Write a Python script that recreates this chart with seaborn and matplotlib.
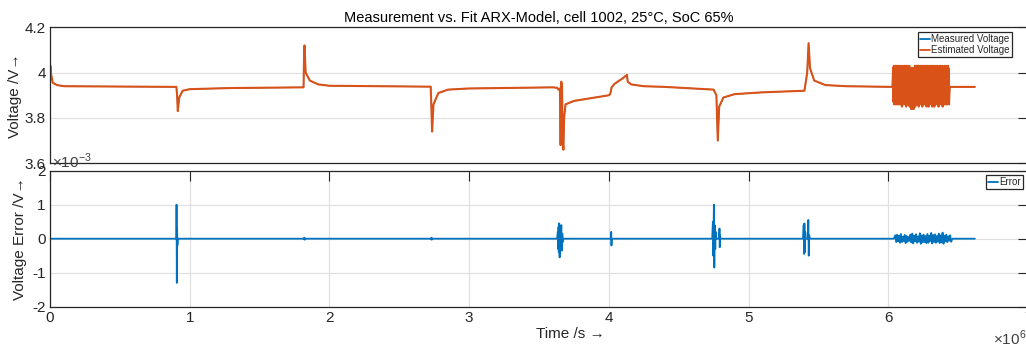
import numpy as np
import pandas as pd
import seaborn as sns
import matplotlib.pyplot as plt

# -- values: time in 1e6 s, voltage in V, error in 1e-3 V --
volt_t = [0.0, 0.003, 0.006, 0.02, 0.05, 0.10, 0.905, 0.910, 0.915, 0.925, 0.95, 1.0, 1.3,
          1.815, 1.818, 1.822, 1.83, 1.86, 1.92, 2.0, 2.725, 2.73, 2.735, 2.745, 2.78, 2.85,
          3.0, 3.60, 3.63, 3.64, 3.65, 3.655, 3.66, 3.665, 3.67, 3.675, 3.68, 3.69, 3.75,
          3.90, 4.0, 4.01, 4.02, 4.04, 4.10, 4.13, 4.135, 4.16, 4.25, 4.40, 4.75, 4.77,
          4.78, 4.79, 4.82, 4.90, 5.10, 5.40, 5.42, 5.43, 5.44, 5.47, 5.55, 5.70, 6.03,
          6.44, 6.62]
volt_v = [3.96, 4.03, 4.00, 3.955, 3.945, 3.94, 3.937, 3.90, 3.83, 3.89, 3.92, 3.927, 3.932,
          3.935, 4.05, 4.12, 4.00, 3.965, 3.948, 3.942, 3.938, 3.85, 3.74, 3.86, 3.91, 3.925,
          3.93, 3.935, 3.933, 3.925, 3.93, 3.68, 3.96, 3.93, 3.70, 3.66, 3.80, 3.86, 3.875,
          3.89, 3.90, 3.905, 3.935, 3.95, 3.975, 3.99, 3.96, 3.948, 3.94, 3.937, 3.925, 3.90,
          3.70, 3.85, 3.89, 3.905, 3.913, 3.92, 4.00, 4.13, 4.02, 3.965, 3.945, 3.94, 3.937,
          3.937, 3.937]

# dense oscillation block near the end (upper / lower swings)
burst_hi = [4.02, 4.03, 4.02, 4.03, 4.02, 4.03, 4.03, 4.02, 4.03, 4.02, 4.03, 4.02, 4.03, 4.02,
            4.03, 4.02, 4.03, 4.02, 4.03, 4.03, 4.02, 4.03, 4.02, 4.03, 4.02, 4.02, 4.01, 4.02,
            4.01, 4.02, 4.02, 4.03, 4.02, 4.03, 4.03, 4.02, 4.03, 4.03, 4.02, 4.03, 4.03, 4.02,
            4.03, 4.02, 4.03, 4.03, 4.02, 4.03, 4.02, 4.03, 4.02, 4.03, 4.02, 4.02, 4.03, 4.02,
            4.03, 4.02, 4.03, 4.02, 4.02, 4.03, 4.02, 4.03, 4.02, 4.02, 4.03, 4.02, 4.03, 4.02,
            4.03, 4.02, 4.02, 4.03, 4.02, 4.03, 4.02, 4.02, 4.03, 4.02]
burst_lo = [3.87, 3.86, 3.87, 3.86, 3.87, 3.86, 3.86, 3.87, 3.86, 3.87, 3.86, 3.86, 3.85, 3.86,
            3.86, 3.87, 3.86, 3.86, 3.85, 3.86, 3.86, 3.87, 3.86, 3.85, 3.86, 3.84, 3.85, 3.84,
            3.85, 3.84, 3.86, 3.85, 3.86, 3.87, 3.86, 3.86, 3.85, 3.86, 3.86, 3.87, 3.86, 3.85,
            3.86, 3.86, 3.87, 3.86, 3.86, 3.85, 3.86, 3.86, 3.85, 3.86, 3.86, 3.87, 3.86, 3.85,
            3.86, 3.86, 3.85, 3.86, 3.86, 3.87, 3.86, 3.86, 3.85, 3.86, 3.86, 3.87, 3.86, 3.86,
            3.85, 3.86, 3.87, 3.86, 3.86, 3.87, 3.86, 3.86, 3.87, 3.86]

err_t = [0.0, 0.905, 0.906, 0.908, 0.910, 0.912, 0.915, 1.82, 1.821, 1.822, 1.823,
         2.73, 2.731, 2.732, 2.733, 3.63, 3.635, 3.637, 3.64, 3.642, 3.645, 3.648, 3.652,
         3.655, 3.66, 3.663, 3.667, 3.67, 3.675, 4.015, 4.017, 4.019, 4.021, 4.74, 4.745,
         4.748, 4.752, 4.755, 4.758, 4.762, 4.765, 4.77, 4.79, 4.792, 4.794, 4.796, 4.80,
         5.39, 5.395, 5.398, 5.40, 5.403, 5.406, 5.41, 5.425, 5.428, 5.431, 5.434, 5.44,
         6.04, 6.46, 6.62]
err_v = [0.0, 0.0, 1.0, -1.3, 0.3, -0.2, 0.0, 0.0, 0.03, -0.03, 0.0,
         0.0, 0.03, -0.03, 0.0, 0.0, 0.2, -0.3, 0.35, -0.4, 0.45, -0.55, 0.25,
         -0.2, 0.4, -0.35, 0.15, -0.1, 0.0, 0.0, 0.2, -0.2, 0.0, 0.0, 0.5,
         -0.5, 1.0, -0.85, 0.4, -0.3, 0.2, 0.0, 0.0, 0.3, -0.25, 0.1, 0.0,
         0.0, 0.4, -0.45, 0.45, -0.4, 0.2, 0.0, 0.0, 0.55, -0.5, 0.1, 0.0,
         0.0, 0.0, 0.0]
err_burst = [0.10, -0.10, 0.12, -0.08, 0.09, -0.12, 0.14, -0.10, 0.06, -0.07, 0.11, -0.13,
             0.08, -0.09, 0.05, -0.06, 0.12, -0.11, 0.15, -0.14, 0.09, -0.08, 0.13, -0.12,
             0.07, -0.09, 0.16, -0.15, 0.10, -0.11, 0.12, -0.10, 0.08, -0.13, 0.14, -0.12,
             0.09, -0.07, 0.17, -0.14, 0.11, -0.10, 0.13, -0.12, 0.08, -0.09, 0.15, -0.13,
             0.10, -0.11, 0.18, -0.15, 0.09, -0.08, 0.12, -0.10, 0.07, -0.06, 0.10, -0.09]

xticks = [0, 1, 2, 3, 4, 5, 6, 7]
yticks_top = [3.6, 3.8, 4.0, 4.2]
ytick_labels_top = ['3.6', '3.8', '4', '4.2']
yticks_bot = [-2, -1, 0, 1, 2]

title = 'Measurement vs. Fit ARX-Model, cell 1002, 25°C, SoC 65%'
blue = '#0072BD'
orange = '#D95319'
dark = '#262626'

sns.set_theme(style='white')
plt.rcParams['font.family'] = ['Liberation Sans', 'DejaVu Sans']
plt.rcParams['mathtext.fontset'] = 'custom'
plt.rcParams['mathtext.rm'] = 'Liberation Sans'
plt.rcParams['axes.unicode_minus'] = False

# build the traces
bt = np.linspace(6.035, 6.435, 2 * len(burst_hi))
bv = np.ravel(np.column_stack([burst_hi, burst_lo]))
volt = pd.concat([pd.DataFrame({'t': volt_t, 'v': volt_v}),
                  pd.DataFrame({'t': bt, 'v': bv})]).sort_values('t')

et = np.linspace(6.05, 6.45, len(err_burst))
err = pd.concat([pd.DataFrame({'t': err_t, 'e': err_v}),
                 pd.DataFrame({'t': et, 'e': err_burst})]).sort_values('t')

fig = plt.figure(figsize=(10.26, 3.51), dpi=100)
ax1 = fig.add_axes([0.0487, 0.5348, 0.9532, 0.3875])
ax2 = fig.add_axes([0.0487, 0.1262, 0.9532, 0.3875])

sns.lineplot(data=volt, x='t', y='v', ax=ax1, color=blue, lw=0.8, estimator=None,
             sort=False, label='Measured Voltage')
sns.lineplot(data=volt, x='t', y='v', ax=ax1, color=orange, lw=1.5, estimator=None,
             sort=False, label='Estimated Voltage')
sns.lineplot(data=err, x='t', y='e', ax=ax2, color=blue, lw=1.3, estimator=None,
             sort=False, label='Error')

for ax in (ax1, ax2):
    ax.set_xlim(0, 7)
    for s in ax.spines.values():
        s.set_color(dark)
        s.set_linewidth(0.9)
    ax.tick_params(direction='in', length=7, width=0.8, color=dark, labelcolor=dark,
                   labelsize=11, right=True, pad=3)

ax1.set_ylim(3.6, 4.2)
ax1.set_yticks(yticks_top)
ax1.set_yticklabels(ytick_labels_top)
ax1.set_xticks([])
ax1.yaxis.grid(True, color='#e0e0e0', lw=0.9)
ax1.set_xlabel('')
ax1.set_ylabel('Voltage /V→', fontsize=11, color=dark, labelpad=2)
ax1.set_title(title, fontsize=10.5, color='black', pad=4)

ax2.set_ylim(-2, 2)
ax2.set_yticks(yticks_bot)
ax2.set_xticks(xticks)
ax2.set_xticklabels([str(v) for v in xticks])
ax2.tick_params(axis='x', top=True)
ax2.grid(True, color='#e0e0e0', lw=0.9)
ax2.set_ylabel('Voltage Error /V→', fontsize=11, color=dark, labelpad=4)
ax2.set_xlabel('Time /s →', fontsize=11, color=dark, labelpad=2)
ax2.xaxis.set_label_coords(0.532, -0.15)

leg_kw = dict(fontsize=7, frameon=True, fancybox=False, framealpha=1, edgecolor=dark,
              handlelength=1.0, handletextpad=0.15, borderpad=0.2, labelspacing=0.1,
              borderaxespad=0)
leg1 = ax1.legend(loc='upper right', bbox_to_anchor=(0.9836, 0.965), **leg_kw)
leg2 = ax2.legend(loc='upper right', bbox_to_anchor=(0.995, 0.968), **leg_kw)
for leg in (leg1, leg2):
    leg.get_frame().set_linewidth(0.9)
    for h in leg.get_lines():
        h.set_linewidth(1.3)

ax2.text(0.002, 1.0, r'$\times10^{-3}$', transform=ax2.transAxes, fontsize=11,
         color='#404040', ha='left', va='bottom')
fig.text(0.968, 0.008, r'$\times10^{6}$', fontsize=11, color='#404040',
         ha='left', va='bottom')

fig.savefig('out.png', dpi=100)
